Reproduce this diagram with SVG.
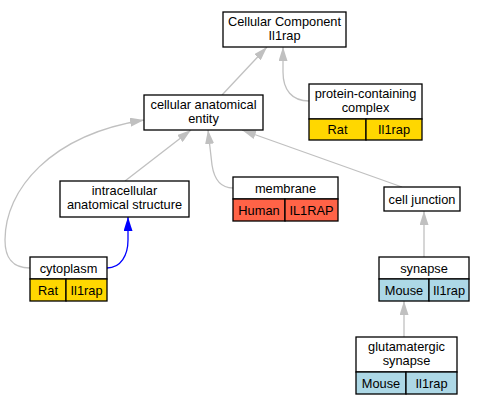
<svg xmlns="http://www.w3.org/2000/svg" width="486" height="405" viewBox="0 0 486 405">
<style>
text{font-family:"Liberation Sans",Arial,sans-serif;font-size:12.8px;text-anchor:middle;fill:#000}
.b{stroke:#000;stroke-width:1.3}
.w{fill:#fff}
.rat{fill:#ffd700}
.hum{fill:#ff6347}
.mou{fill:#add8e6}
.e{fill:none;stroke:#c0c0c0;stroke-width:1.3}
.blue{fill:none;stroke:#0000ff;stroke-width:1.3}
</style>
<defs>
<marker id="ag" viewBox="0 0 14 9" refX="14" refY="4.5" markerWidth="14" markerHeight="9" markerUnits="userSpaceOnUse" orient="auto"><path d="M0,0L14,4.5L0,9z" fill="#c0c0c0"/></marker>
<marker id="ab" viewBox="0 0 14 9" refX="14" refY="4.5" markerWidth="14" markerHeight="9" markerUnits="userSpaceOnUse" orient="auto"><path d="M0,0L14,4.5L0,9z" fill="#0000ff"/></marker>
</defs>
<rect width="486" height="405" fill="#fff"/>
<g id="edges">
<path class="e" marker-end="url(#ag)" d="M222,95L267,47"/>
<path class="e" marker-end="url(#ag)" d="M309,101C292,101 283,90 283,72L283,47"/>
<path class="e" marker-end="url(#ag)" d="M125,181L191,130"/>
<path class="e" marker-end="url(#ag)" d="M233,188C220,188 214,178 212,165L208,130"/>
<path class="e" marker-end="url(#ag)" d="M402,187L242,130"/>
<path class="e" marker-end="url(#ag)" d="M30,268C10,268 5,255 5,240C5,190 50,135 144,120"/>
<path class="blue" marker-end="url(#ab)" d="M107,268C121,268 128,255 128,240L128,217"/>
<path class="e" marker-end="url(#ag)" d="M424,257L424,211"/>
<path class="e" marker-end="url(#ag)" d="M404,337L404,301"/>
</g>
<g id="cc">
<rect class="b w" x="223" y="12" width="123" height="35"/>
<text x="284.5" y="26.3">Cellular Component</text>
<text x="284.5" y="40.3">Il1rap</text>
</g>
<g id="pcc">
<rect class="b w" x="309" y="84" width="113" height="35"/>
<rect class="b rat" x="309" y="119" width="57" height="21"/>
<rect class="b rat" x="366" y="119" width="56" height="21"/>
<text x="365.5" y="98.3">protein-containing</text>
<text x="365.5" y="112.3">complex</text>
<text x="337.5" y="134">Rat</text>
<text x="394" y="134">Il1rap</text>
</g>
<g id="cae">
<rect class="b w" x="144" y="95" width="119" height="35"/>
<text x="203.5" y="109.3">cellular anatomical</text>
<text x="203.5" y="123.3">entity</text>
</g>
<g id="ics">
<rect class="b w" x="60" y="181" width="129" height="36"/>
<text x="124.5" y="195.3">intracellular</text>
<text x="124.5" y="209.3">anatomical structure</text>
</g>
<g id="membrane">
<rect class="b w" x="233" y="177" width="105" height="22"/>
<rect class="b hum" x="233" y="199" width="52" height="22"/>
<rect class="b hum" x="285" y="199" width="53" height="22"/>
<text x="285.5" y="192.5">membrane</text>
<text x="259" y="214.5">Human</text>
<text x="311.5" y="214.5">IL1RAP</text>
</g>
<g id="cj">
<rect class="b w" x="384" y="187" width="76" height="24"/>
<text x="422" y="203.5">cell junction</text>
</g>
<g id="synapse">
<rect class="b w" x="379" y="257" width="90" height="22"/>
<rect class="b mou" x="379" y="279" width="50" height="22"/>
<rect class="b mou" x="429" y="279" width="40" height="22"/>
<text x="424" y="272.5">synapse</text>
<text x="404" y="294.5">Mouse</text>
<text x="449" y="294.5">Il1rap</text>
</g>
<g id="cytoplasm">
<rect class="b w" x="30" y="257" width="77" height="22"/>
<rect class="b rat" x="30" y="279" width="36" height="22"/>
<rect class="b rat" x="66" y="279" width="41" height="22"/>
<text x="68.5" y="272.5">cytoplasm</text>
<text x="48" y="294.5">Rat</text>
<text x="86.5" y="294.5">Il1rap</text>
</g>
<g id="glut">
<rect class="b w" x="356" y="337" width="101" height="35"/>
<rect class="b mou" x="356" y="372" width="50" height="22"/>
<rect class="b mou" x="406" y="372" width="51" height="22"/>
<text x="406.5" y="351.3">glutamatergic</text>
<text x="406.5" y="365.3">synapse</text>
<text x="381" y="387.5">Mouse</text>
<text x="431.5" y="387.5">Il1rap</text>
</g>
</svg>
